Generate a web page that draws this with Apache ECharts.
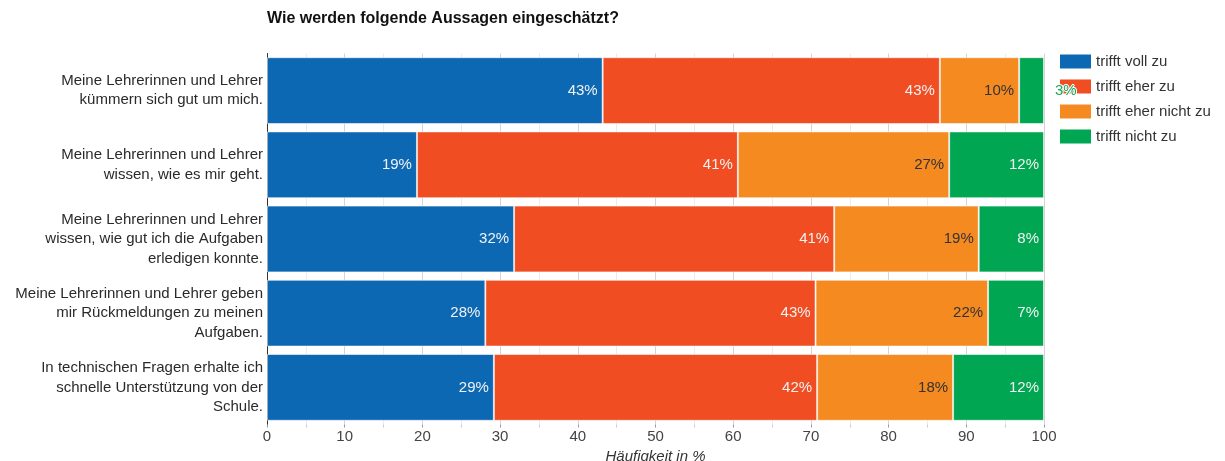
<!DOCTYPE html>
<html><head><meta charset="utf-8">
<script src="https://cdn.jsdelivr.net/npm/echarts@6/dist/echarts.min.js"></script>
<style>html,body{margin:0;padding:0;background:#fff}#c{width:1225px;height:461px}</style>
</head><body><div id="c"></div>
<script>
const categories = [
  'Meine Lehrerinnen und Lehrer\nkümmern sich gut um mich.',
  'Meine Lehrerinnen und Lehrer\nwissen, wie es mir geht.',
  'Meine Lehrerinnen und Lehrer\nwissen, wie gut ich die Aufgaben\nerledigen konnte.',
  'Meine Lehrerinnen und Lehrer geben\nmir Rückmeldungen zu meinen\nAufgaben.',
  'In technischen Fragen erhalte ich\nschnelle Unterstützung von der\nSchule.'
];
const seriesNames = ['trifft voll zu', 'trifft eher zu', 'trifft eher nicht zu', 'trifft nicht zu'];
const trifftVoll      = [43.2, 19.3, 31.8, 28.1, 29.2];
const trifftEher      = [43.4, 41.3, 41.2, 42.5, 41.6];
const trifftEherNicht = [10.2, 27.2, 18.6, 22.2, 17.5];
const trifftNicht     = [3.2, 12.2, 8.4, 7.2, 11.7];
const titleText = 'Wie werden folgende Aussagen eingeschätzt?';
const axisTitle = 'Häufigkeit in %';

const colors = ['#0d68b4', '#f04d23', '#f48a20', '#00a651'];
const labelColors = ['#f2f2f2', '#f2f2f2', '#333333', '#f2f2f2'];
const FONT = '"Liberation Sans", Arial, sans-serif';
const allValues = [trifftVoll, trifftEher, trifftEherNicht, trifftNicht];

const series = allValues.map((vals, si) => ({
  name: seriesNames[si],
  type: 'bar',
  stack: 'total',
  z: 5,
  barCategoryGap: '10%',
  itemStyle: { color: colors[si], borderColor: 'rgba(255,255,255,0.55)', borderWidth: 1 },
  label: {
    show: true,
    position: 'insideRight',
    distance: 5,
    color: labelColors[si],
    fontSize: 15,
    fontFamily: FONT,
    formatter: p => Math.round(p.value) + '%'
  },
  data: vals.map(v => (v < 5 ? {
    value: v,
    label: { position: 'right', distance: 11, color: '#1aa75c', textBorderColor: '#ffffff', textBorderWidth: 2 }
  } : v))
}));

const chart = echarts.init(document.getElementById('c'));
chart.setOption({
  animation: false,
  textStyle: { fontFamily: FONT },
  title: {
    text: titleText, left: 267, top: 11, padding: 0,
    textStyle: { fontSize: 16, fontWeight: 'bold', color: '#111', fontFamily: FONT }
  },
  legend: {
    orient: 'vertical', left: 1060, top: 54, padding: 0, z: 1,
    itemWidth: 31, itemHeight: 14, itemGap: 10, icon: 'rect',
    itemStyle: { borderWidth: 0 },
    textStyle: { fontSize: 15, color: '#333', fontFamily: FONT },
    data: seriesNames
  },
  grid: { left: 267, right: 181, top: 53.5, bottom: 36.5, containLabel: false, outerBoundsMode: 'none' },
  xAxis: {
    type: 'value', min: 0, max: 100, interval: 10,
    name: axisTitle, nameLocation: 'middle', nameGap: 19,
    nameTextStyle: { fontSize: 15, fontStyle: 'italic', color: '#333', fontFamily: FONT },
    axisLine: { show: false },
    axisTick: { show: true, length: 3, lineStyle: { color: '#999' } },
    minorTick: { show: true, splitNumber: 2, length: 3, lineStyle: { color: '#ccc' } },
    axisLabel: { fontSize: 15, color: '#444', margin: 5, fontFamily: FONT },
    splitLine: { show: true, lineStyle: { color: '#d4d4d4', width: 1 } },
    minorSplitLine: { show: true, lineStyle: { color: '#ebebeb', width: 1 } }
  },
  yAxis: {
    type: 'category', inverse: true, data: categories,
    axisLine: { show: true, lineStyle: { color: '#333', width: 1 } },
    axisTick: { show: false },
    axisLabel: { fontSize: 15, lineHeight: 19.5, color: '#2a2a2a', margin: 4, align: 'right', fontFamily: FONT }
  },
  series: series
});
</script>
</body></html>
